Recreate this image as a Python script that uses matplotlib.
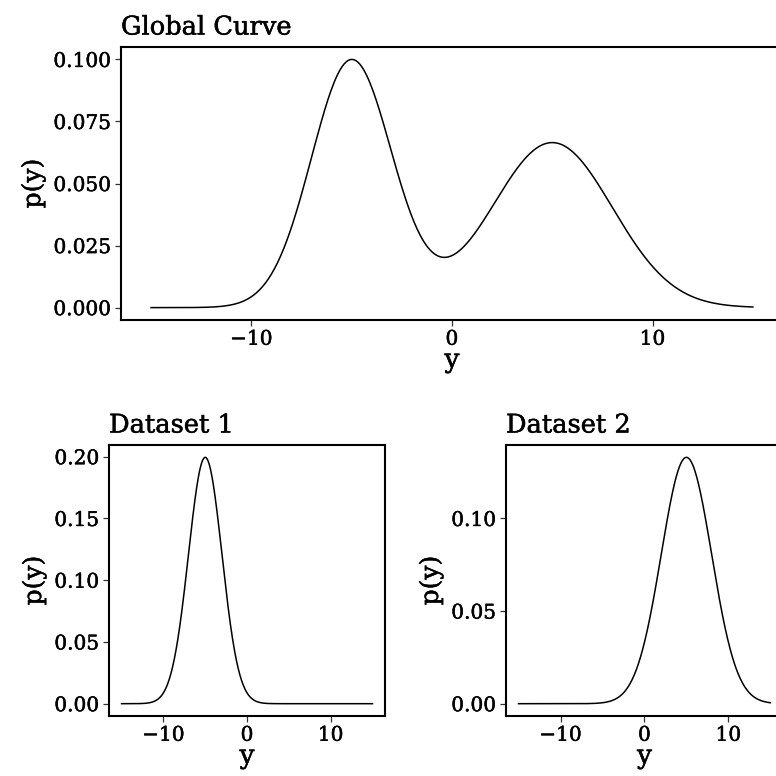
import numpy as np
import matplotlib
matplotlib.use("Agg")
import matplotlib.pyplot as plt
import matplotlib.patheffects as pe
from matplotlib.ticker import FormatStrFormatter

# Two-component Gaussian mixture: global curve and each component on its own
weights = [0.5, 0.5]
means = [-5.0, 5.0]
sds = [2.0, 3.0]
y_min, y_max = -15, 15
panel_titles = ["Global Curve", "Dataset 1", "Dataset 2"]


def normal_pdf(x, mu, sd):
    return np.exp(-0.5 * ((x - mu) / sd) ** 2) / (sd * np.sqrt(2 * np.pi))


y = np.linspace(y_min, y_max, 600)
p_global = sum(w * normal_pdf(y, m, s) for w, m, s in zip(weights, means, sds))
p_sets = [normal_pdf(y, m, s) for m, s in zip(means, sds)]

plt.rcParams["font.family"] = ["DejaVu Serif"]
plt.rcParams["axes.unicode_minus"] = True

# slightly heavier strokes on all text
thick = [pe.withStroke(linewidth=0.35, foreground="black")]

fig = plt.figure(figsize=(7.76, 7.76), dpi=100)
ax_top = fig.add_axes([0.1559, 0.5876, 0.853, 0.3518])
ax_l = fig.add_axes([0.1405, 0.0773, 0.3557, 0.3492])
ax_r = fig.add_axes([0.652, 0.0773, 0.357, 0.3492])


def style(ax, curve, title, yticks, fmt):
    ax.plot(y, curve, color="black", lw=1.1)
    span = y_max - y_min
    ax.set_xlim(y_min - 0.05 * span, y_max + 0.05 * span)
    top = curve.max()
    ax.set_ylim(-0.05 * top, 1.05 * top)
    ax.set_xticks([-10, 0, 10])
    ax.set_yticks(yticks)
    ax.yaxis.set_major_formatter(FormatStrFormatter(fmt))
    for sp in ax.spines.values():
        sp.set_linewidth(1.5)
        sp.set_color("black")
    ax.tick_params(direction="out", length=4, width=0.9, color="#333333",
                   labelsize=14.5, labelcolor="black", pad=3)
    t = ax.set_title(title, loc="left", fontsize=18.5, pad=9)
    xl = ax.set_xlabel("y", fontsize=19, labelpad=-1)
    yl = ax.set_ylabel("p(y)", fontsize=18, labelpad=6)
    for txt in [t, xl, yl] + ax.get_xticklabels() + ax.get_yticklabels():
        txt.set_path_effects(thick)


style(ax_top, p_global, panel_titles[0], [0, 0.025, 0.05, 0.075, 0.1], "%.3f")
style(ax_l, p_sets[0], panel_titles[1], [0, 0.05, 0.1, 0.15, 0.2], "%.2f")
style(ax_r, p_sets[1], panel_titles[2], [0, 0.05, 0.1], "%.2f")

fig.savefig("out.png", dpi=100)
